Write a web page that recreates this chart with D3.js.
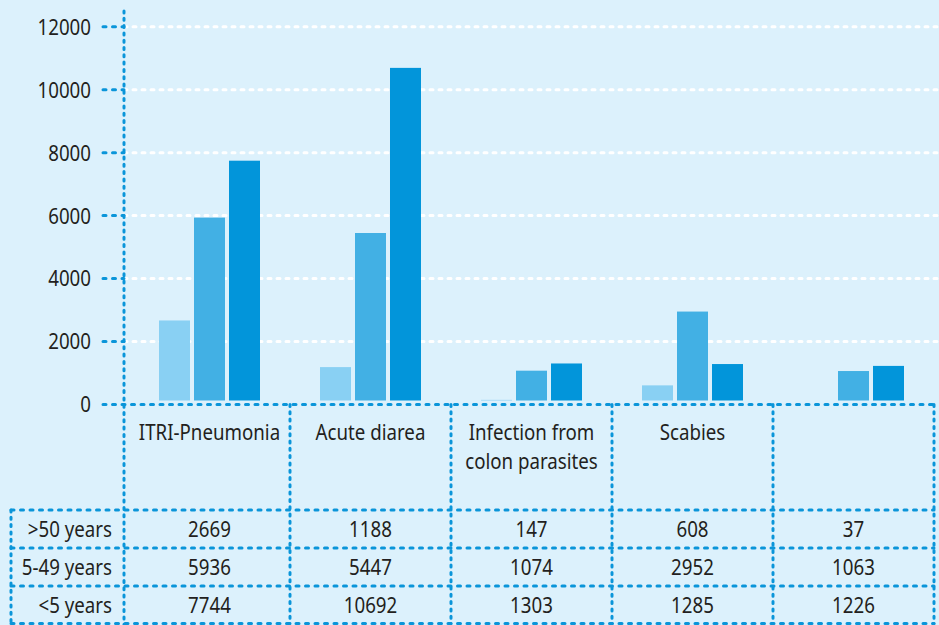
<!DOCTYPE html>
<html>
<head>
<meta charset="utf-8">
<script src="https://cdn.jsdelivr.net/npm/d3@7/dist/d3.min.js"></script>
<style>
  html, body { margin: 0; padding: 0; background: #dcf1fc; }
  svg { display: block; }
  text { font-family: "Noto Sans", "Open Sans", sans-serif; fill: #231f20; }
</style>
</head>
<body>
<script>
// Diseases (columns of the table) and their captions, split into lines
const categories = ["ITRI-Pneumonia", "Acute diarea", "Infection from colon parasites", "Scabies", ""];
const categoryLines = [["ITRI-Pneumonia"], ["Acute diarea"], ["Infection from", "colon parasites"], ["Scabies"], []];

// Age groups (table rows / bar series)
const seriesNames = [">50 years", "5-49 years", "<5 years"];
const over50 = [2669, 1188, 147, 608, 37];
const age5to49 = [5936, 5447, 1074, 2952, 1063];
const under5 = [7744, 10692, 1303, 1285, 1226];
const seriesColors = ["#89d0f3", "#42b0e4", "#0295da"];

const yTicks = [0, 2000, 4000, 6000, 8000, 10000, 12000];

const series = [over50, age5to49, under5];

const W = 939, H = 625;
const blue = "#0a95d9";
const axisX = 124;
const fontSize = 22;
const squeeze = 0.85; // narrow the glyphs horizontally

const svg = d3.select("body").append("svg").attr("width", W).attr("height", H);
svg.append("rect").attr("width", W).attr("height", H).attr("fill", "#dcf1fc");

const y = d3.scaleLinear().domain([0, 12000]).range([404.5, 26.7]);
const x0 = d3.scaleBand().domain(d3.range(categories.length)).range([129, 934]);
const groupW = 101;
const x1 = d3.scaleBand().domain(d3.range(series.length)).range([0, groupW]).paddingInner(4 / 35);

// condensed text label anchored at (x, y); several lines become tspans
function label(parent, x, yy, lines, anchor, dy, lineH) {
  const t = parent.append("g")
    .attr("transform", `translate(${x},${yy}) scale(${squeeze},1)`)
    .append("text")
    .attr("text-anchor", anchor)
    .attr("font-size", fontSize);
  [].concat(lines).forEach((ln, li) => {
    t.append("tspan").attr("x", 0).attr("y", li * (lineH || 0)).attr("dy", dy || 0).text(ln);
  });
}

// white dashed gridlines
svg.append("g").selectAll("line").data(yTicks.filter(d => d > 0)).join("line")
  .attr("x1", axisX).attr("x2", W)
  .attr("y1", d => y(d)).attr("y2", d => y(d))
  .attr("stroke", "#ffffff").attr("stroke-width", 3)
  .attr("stroke-linecap", "round").attr("stroke-dasharray", "3 6");

// bars
const barGap = 4;
const bars = svg.append("g");
series.forEach((vals, si) => {
  bars.selectAll(null).data(vals).join("rect")
    .attr("x", (d, i) => x0(i) + (x0.bandwidth() - groupW) / 2 + x1(si))
    .attr("width", x1.bandwidth())
    .attr("y", d => y(d))
    .attr("height", d => Math.max(0, y(0) - y(d) - barGap))
    .attr("fill", seriesColors[si]);
});

// blue dotted helpers
function hline(x1p, x2p, yp) {
  svg.append("line").attr("x1", x1p).attr("x2", x2p).attr("y1", yp).attr("y2", yp)
    .attr("stroke", blue).attr("stroke-width", 3)
    .attr("stroke-linecap", "round").attr("stroke-dasharray", "3 6.5");
}
function vline(xp, y1p, y2p) {
  svg.append("line").attr("x1", xp).attr("x2", xp).attr("y1", y1p).attr("y2", y2p)
    .attr("stroke", blue).attr("stroke-width", 3)
    .attr("stroke-linecap", "round").attr("stroke-dasharray", "2 5.3");
}

// y axis ticks and labels
yTicks.forEach(t => {
  if (t > 0) hline(103, axisX, y(t));
});
hline(103, W, y(0));
const yLab = svg.append("g");
yTicks.forEach(t => label(yLab, 91, y(t), String(t), "end", "0.36em"));

// vertical axis
vline(axisX, 11, H);

// table grid
const rowLines = [510, 548, 586, 623.5];
const tableLeft = 11, tableRight = 934;
rowLines.forEach(r => hline(tableLeft, tableRight, r));
vline(tableLeft, 510, 623.5);
d3.range(1, categories.length).forEach(i => vline(x0(i), 404.5, 623.5));
vline(tableRight, 404.5, 623.5);

// category captions
const cap = svg.append("g");
categoryLines.forEach((lines, i) => {
  if (lines.length) label(cap, x0(i) + x0.bandwidth() / 2, 439.5, lines, "middle", 0, 30);
});

// table rows: age group name + values per disease
const cells = svg.append("g");
seriesNames.forEach((name, si) => {
  const cy = (rowLines[si] + rowLines[si + 1]) / 2;
  label(cells, 112, cy, name, "end", "0.36em");
  series[si].forEach((v, i) => {
    label(cells, x0(i) + x0.bandwidth() / 2, cy, String(v), "middle", "0.36em");
  });
});
</script>
</body>
</html>
